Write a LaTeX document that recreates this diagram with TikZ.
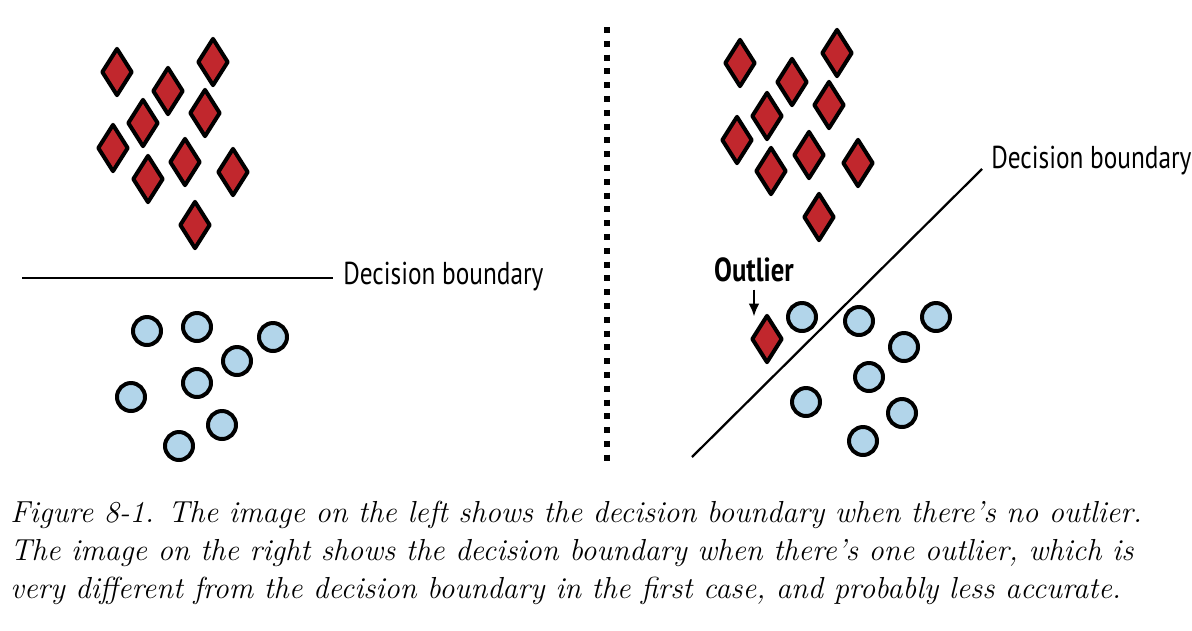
\documentclass[tikz,border=0pt]{standalone}
\usepackage{fontspec}
\newfontfamily\lblfont[FakeStretch=0.8]{PT Sans}
\usetikzlibrary{shapes.geometric,arrows.meta}
\definecolor{dred}{HTML}{C1272D}
\definecolor{cblue}{HTML}{B2D5EA}
\tikzset{
  pt/.style={draw,line width=0.08cm,line join=round,inner sep=0pt},
  red/.style={pt,diamond,fill=dred,minimum width=0.62cm,minimum height=0.96cm},
  blue/.style={pt,circle,fill=cblue,minimum size=0.56cm},
  lbl/.style={inner sep=0pt,font=\lblfont\fontsize{18}{20}\selectfont},
  capline/.style={anchor=base west,inner sep=0pt,font=\itshape\fontsize{17.3}{20}\selectfont}
}
\begin{document}
\begin{tikzpicture}[x=0.02cm,y=-0.02cm]
    \useasboundingbox (0,0) rectangle (1192,630);
    % left half
    \node[red] (d1) at (117,72) {};
    \node[red] (d2) at (213,62) {};
    \node[red] (d3) at (168,91) {};
    \node[red] (d4) at (205,113) {};
    \node[red] (d5) at (143,123) {};
    \node[red] (d6) at (113,148) {};
    \node[red] (d7) at (185,162) {};
    \node[red] (d8) at (148,179) {};
    \node[red] (d9) at (233,172) {};
    \node[red] (d10) at (195,225) {};
    \node[blue] (c1) at (147,331) {};
    \node[blue] (c2) at (197,327) {};
    \node[blue] (c3) at (273,337) {};
    \node[blue] (c4) at (237,361) {};
    \node[blue] (c5) at (197,383) {};
    \node[blue] (c6) at (131,397) {};
    \node[blue] (c7) at (222,425) {};
    \node[blue] (c8) at (179,446) {};
    \coordinate (l1) at (22,278);
    \coordinate (l2) at (333,278);
    \draw[line width=0.045cm] (l1) -- (l2);
    \node[lbl,anchor=base west] (ldb) at (343,284) {Decision boundary};
    % separator
    \coordinate (s1) at (607,27);
    \coordinate (s2) at (607,461);
    \draw[line width=0.12cm,dash pattern=on 0.12cm off 0.156cm] (s1) -- (s2);
    % right half
    \node[red] (e1) at (740,63) {};
    \node[red] (e2) at (837,53) {};
    \node[red] (e3) at (792,82) {};
    \node[red] (e4) at (829,105) {};
    \node[red] (e5) at (767,116) {};
    \node[red] (e6) at (737,140) {};
    \node[red] (e7) at (809,155) {};
    \node[red] (e8) at (771,171) {};
    \node[red] (e9) at (858,163) {};
    \node[red] (e10) at (819,217) {};
    \node[red] (odia) at (767,339) {};
    \node[blue] (k1) at (802,317) {};
    \node[blue] (k2) at (859,321) {};
    \node[blue] (k3) at (936,317) {};
    \node[blue] (k4) at (904,347) {};
    \node[blue] (k5) at (869,377) {};
    \node[blue] (k6) at (806,402) {};
    \node[blue] (k7) at (902,413) {};
    \node[blue] (k8) at (863,441) {};
    \coordinate (r1) at (692,457);
    \coordinate (r2) at (982,169);
    \draw[line width=0.045cm] (r1) -- (r2);
    \node[lbl,anchor=base west] (rdb) at (991,168) {Decision boundary};
    \node[lbl,font=\lblfont\bfseries\fontsize{19}{20}\selectfont] (outl) at (754,270) {Outlier};
    \draw[-{Latex[length=0.26cm,width=0.22cm]},line width=0.05cm] ([yshift=-4pt]outl.south) -- ([yshift=-2pt]outl.south |- odia.north);
    % caption
    \node[capline] (cap1) at (10,522) {Figure 8-1. The image on the left shows the decision boundary when there's no outlier.};
    \node[capline] (cap2) at (10,560) {The image on the right shows the decision boundary when there's one outlier, which is};
    \node[capline] (cap3) at (10,598) {very different from the decision boundary in the first case, and probably less accurate.};
\end{tikzpicture}
\end{document}
